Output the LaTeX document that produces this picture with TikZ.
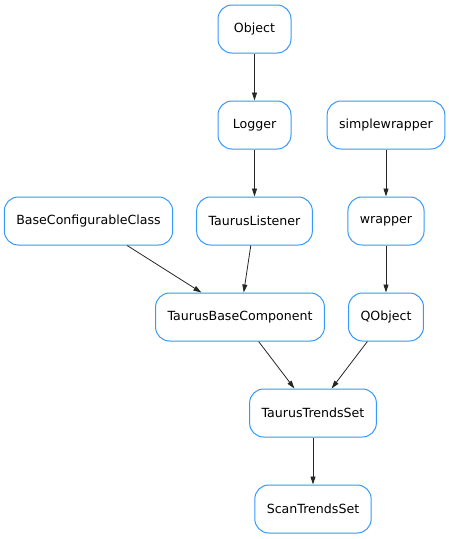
\documentclass[tikz,border=0pt]{standalone}
\usepackage{fontspec}
\setmainfont{DejaVu Sans}
\usepackage{xcolor}
\usepackage{tikz}
\usetikzlibrary{arrows.meta}
\definecolor{clsblue}{RGB}{51,153,255}

\begin{document}
\begin{tikzpicture}[x=1pt,y=-1pt,font=\fontsize{12.6}{15}\selectfont,
	cls/.style={draw=clsblue,line width=1pt,rounded corners=14pt,fill=white,
		minimum width=73pt,minimum height=48pt,inner xsep=12pt},
	inh/.style={draw=black!85,line width=0.8pt,-{Triangle[length=8pt,width=5pt]}}]

\useasboundingbox (0,0) rectangle (449,539); % page size

% Classes
\node[cls] (Object) at (254.5,29) {Object};
\node[cls] (Logger) at (254.5,125) {Logger};
\node[cls] (simplewrapper) at (386,125) {simplewrapper};
\node[cls] (BaseConfigurableClass) at (88.5,221) {BaseConfigurableClass};
\node[cls] (TaurusListener) at (254.5,221) {TaurusListener};
\node[cls] (wrapper) at (386,221) {wrapper};
\node[cls] (TaurusBaseComponent) at (240,317) {TaurusBaseComponent};
\node[cls] (QObject) at (386,317) {QObject};
\node[cls] (TaurusTrendsSet) at (313,413) {TaurusTrendsSet};
\node[cls] (ScanTrendsSet) at (313,509) {ScanTrendsSet};

% Inheritance edges
\draw[inh] (Object) -- (Logger);
\draw[inh] (Logger) -- (TaurusListener);
\draw[inh] (simplewrapper) -- (wrapper);
\draw[inh] (wrapper) -- (QObject);
\draw[inh] (BaseConfigurableClass) -- (TaurusBaseComponent);
\draw[inh] (TaurusListener) -- (TaurusBaseComponent);
\draw[inh] (TaurusBaseComponent) -- (TaurusTrendsSet);
\draw[inh] (QObject) -- (TaurusTrendsSet);
\draw[inh] (TaurusTrendsSet) -- (ScanTrendsSet);
\end{tikzpicture}
\end{document}
